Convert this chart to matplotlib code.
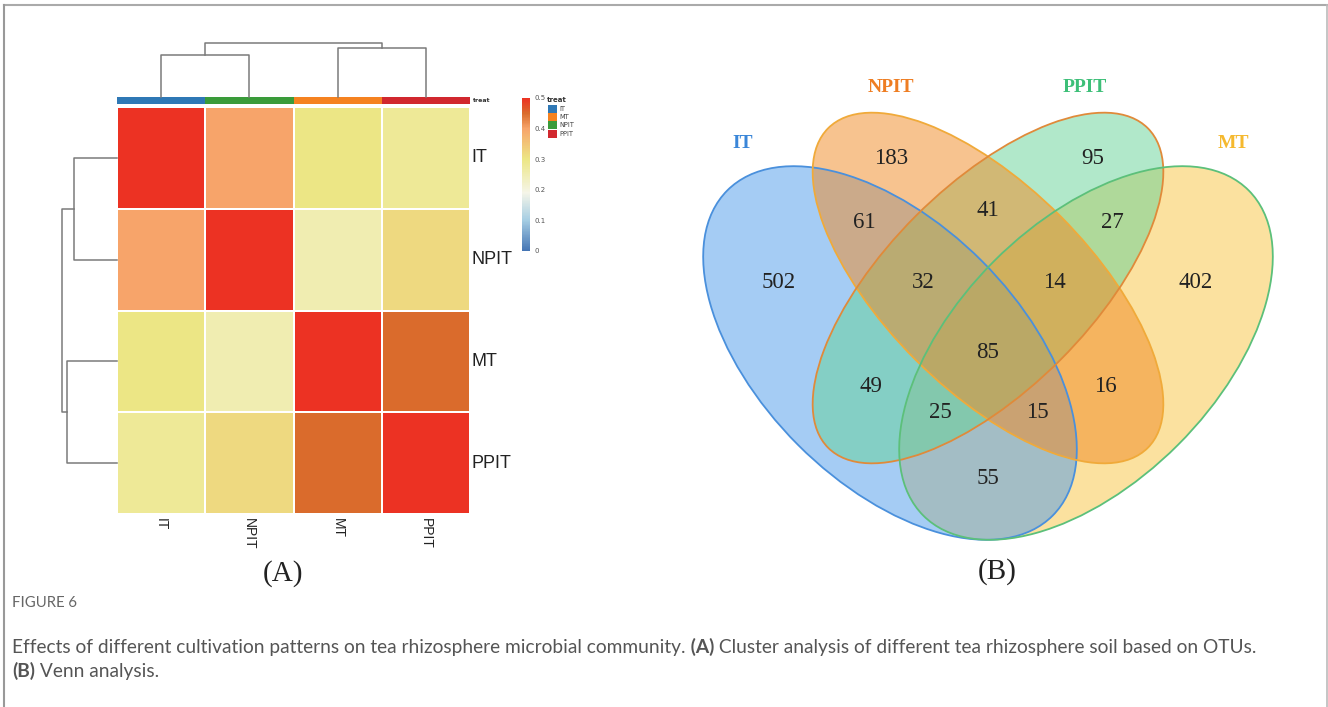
import matplotlib
matplotlib.use('Agg')
import matplotlib.pyplot as plt
import numpy as np
from matplotlib.colors import LinearSegmentedColormap
from matplotlib.patches import Ellipse, Rectangle

W, H = 1328, 707

# ---- heatmap / clustering data ----
samples = ['IT', 'NPIT', 'MT', 'PPIT']
sim = np.array([
    [0.50, 0.40, 0.30, 0.28],
    [0.40, 0.50, 0.25, 0.32],
    [0.30, 0.25, 0.50, 0.45],
    [0.28, 0.32, 0.45, 0.50],
])
# merges: (left id, right id, height); ids >= 4 are earlier merges
merges = [(0, 1, 0.78), (2, 3, 0.91), (4, 5, 1.0)]
treat_colors = {'IT': '#2f78b5', 'MT': '#f58220', 'NPIT': '#3a9b3a', 'PPIT': '#d1282e'}
legend_order = ['IT', 'MT', 'NPIT', 'PPIT']
cbar_ticks = [0, 0.1, 0.2, 0.3, 0.4, 0.5]

# ---- venn data ----
venn_sets = ['IT', 'NPIT', 'PPIT', 'MT']
venn_set_colors = ['#3a86d8', '#ee7d22', '#3dbf78', '#f5b92f']
venn_regions = ['IT', 'NPIT', 'PPIT', 'MT', 'IT&NPIT', 'NPIT&PPIT', 'PPIT&MT',
                'IT&NPIT&PPIT', 'NPIT&PPIT&MT', 'all', 'IT&PPIT', 'NPIT&MT',
                'IT&PPIT&MT', 'IT&NPIT&MT', 'IT&MT']
venn_counts = [502, 183, 95, 402, 61, 41, 27, 32, 14, 85, 49, 16, 25, 15, 55]

fig = plt.figure(figsize=(W / 100, H / 100), dpi=100)


def px_axes(x0, y0, x1, y1):
    return fig.add_axes([x0 / W, 1 - y1 / H, (x1 - x0) / W, (y1 - y0) / H])


cmap = LinearSegmentedColormap.from_list('sim', [
    (0.0, '#4575b4'), (0.2, '#a5cde3'), (0.38, '#f5f5e8'),
    (0.6, '#ece685'), (0.8, '#f7a46a'), (0.9, '#da6c2c'), (1.0, '#ec3223')])

# heatmap body
ax_h = px_axes(117, 107, 470, 514)
mesh = ax_h.pcolormesh(sim, cmap=cmap, vmin=0, vmax=0.5, edgecolors='white', linewidth=1.2)
ax_h.set_xlim(0, 4)
ax_h.set_ylim(4, 0)
ax_h.axis('off')
for i, s in enumerate(samples):
    ax_h.text(4.02, i + 0.5, s, ha='left', va='center', fontsize=13,
              family='Liberation Sans', color='#222')
    ax_h.text(i + 0.5, 4.04, s, ha='center', va='top', rotation=-90, fontsize=10,
              family='Liberation Sans', color='#222')

# treat annotation bar
ax_t = px_axes(117, 97, 470, 104)
for i, s in enumerate(samples):
    ax_t.add_patch(Rectangle((i, 0), 1, 1, color=treat_colors[s], lw=0))
ax_t.set_xlim(0, 4)
ax_t.set_ylim(0, 1)
ax_t.axis('off')
ax_t.text(4.03, 0.5, 'treat', ha='left', va='center', fontsize=4.5, fontweight='bold', color='#333')


def draw_dendro(ax, top):
    pos = {i: i + 0.5 for i in range(len(samples))}
    hgt = {i: 0.0 for i in range(len(samples))}
    for k, (a, b, h) in enumerate(merges):
        xs = [pos[a], pos[a], pos[b], pos[b]]
        ys = [hgt[a], h, h, hgt[b]]
        if top:
            ax.plot(xs, ys, color='#7a7a7a', lw=1.1, clip_on=False)
        else:
            ax.plot(ys, xs, color='#7a7a7a', lw=1.1, clip_on=False)
        pos[len(samples) + k] = (pos[a] + pos[b]) / 2
        hgt[len(samples) + k] = h


ax_dt = px_axes(117, 43, 470, 97)
draw_dendro(ax_dt, True)
ax_dt.set_xlim(0, 4)
ax_dt.set_ylim(0, 1.0)
ax_dt.axis('off')

ax_dl = px_axes(62, 107, 117, 514)
draw_dendro(ax_dl, False)
ax_dl.set_xlim(1.0, 0)
ax_dl.set_ylim(4, 0)
ax_dl.axis('off')

# colour key
cax = px_axes(522, 98, 530, 251)
cb = fig.colorbar(mesh, cax=cax, ticks=cbar_ticks)
cb.outline.set_visible(False)
cb.ax.tick_params(length=0, labelsize=5, labelcolor='#555', pad=3)
cb.ax.set_yticklabels([f'{t:g}' for t in cbar_ticks])

# overlay in pixel coordinates
ov = fig.add_axes([0, 0, 1, 1])
ov.set_xlim(0, W)
ov.set_ylim(H, 0)
ov.axis('off')

ov.text(547, 100, 'treat', ha='left', va='center', fontsize=5, fontweight='bold', color='#333')
for i, s in enumerate(legend_order):
    y0 = 105 + i * 8.2
    ov.add_patch(Rectangle((548, y0), 9, 8, color=treat_colors[s], lw=0))
    ov.text(559, y0 + 4, s, ha='left', va='center', fontsize=4.8, color='#444')

# venn diagram
ax_v = px_axes(680, 60, 1300, 560)
ax_v.set_xlim(680, 1300)
ax_v.set_ylim(560, 60)
ax_v.axis('off')
shapes = {
    'IT': ((890, 353), 460, 260, 45),
    'NPIT': ((988, 288), 452, 204, 45),
    'PPIT': ((988, 288), 452, 204, -45),
    'MT': ((1086, 353), 460, 260, -45),
}
fills = {'IT': '#4d9beb', 'NPIT': '#f18921', 'PPIT': '#65d397', 'MT': '#f9c541'}
edges = {'IT': '#4a90dc', 'NPIT': '#f0aa3a', 'PPIT': '#e08a3a', 'MT': '#5cc07a'}
for s in ['MT', 'IT', 'PPIT', 'NPIT']:
    c, w, h, ang = shapes[s]
    ax_v.add_patch(Ellipse(c, w, h, angle=ang, facecolor=fills[s], alpha=0.5, lw=0))
for s in venn_sets:
    c, w, h, ang = shapes[s]
    ax_v.add_patch(Ellipse(c, w, h, angle=ang, facecolor='none', edgecolor=edges[s], lw=1.3))

region_xy = [(779, 283), (891, 158), (1093, 158), (1196, 283), (864, 223), (988, 210),
             (1112, 223), (923, 283), (1054, 283), (988, 353), (871, 386), (1105, 386),
             (940, 412), (1037, 412), (988, 478)]
for (x, y), n in zip(region_xy, venn_counts):
    ax_v.text(x, y, str(n), ha='center', va='center', fontsize=16.5,
              family='Liberation Serif', color='#222')
set_xy = [(743, 143), (891, 87), (1085, 87), (1233, 143)]
for (x, y), s, col in zip(set_xy, venn_sets, venn_set_colors):
    ax_v.text(x, y, s, ha='center', va='center', fontsize=14, fontweight='bold',
              family='Liberation Serif', color=col)

ov.text(283, 574, '(A)', ha='center', va='center', fontsize=21, family='Liberation Serif', color='#222')
ov.text(997, 572, '(B)', ha='center', va='center', fontsize=21, family='Liberation Serif', color='#222')

# caption
ov.text(12, 603, 'FIGURE 6', ha='left', va='center', fontsize=10.7, family='Lato', color='#666')
renderer = fig.canvas.get_renderer()


def put_runs(x, y, runs):
    for s, wt in runs:
        t = ov.text(x, y, s, ha='left', va='center', fontsize=13.8, family='Lato',
                    fontweight=wt, color='#555')
        x += t.get_window_extent(renderer=renderer).width


put_runs(12, 647, [('Effects of different cultivation patterns on tea rhizosphere microbial community.', 'normal'),
                   (' (A)', 'bold'),
                   (' Cluster analysis of different tea rhizosphere soil based on OTUs.', 'normal')])
put_runs(12, 671, [('(B)', 'bold'), (' Venn analysis.', 'normal')])

# frame
ov.plot([4, 1327], [5, 5], color='#aaa', lw=1.5)
ov.plot([4, 4], [5, H], color='#999', lw=1.5)
ov.plot([1327, 1327], [5, H], color='#bbb', lw=1.2)

fig.savefig('out.png', dpi=100)
